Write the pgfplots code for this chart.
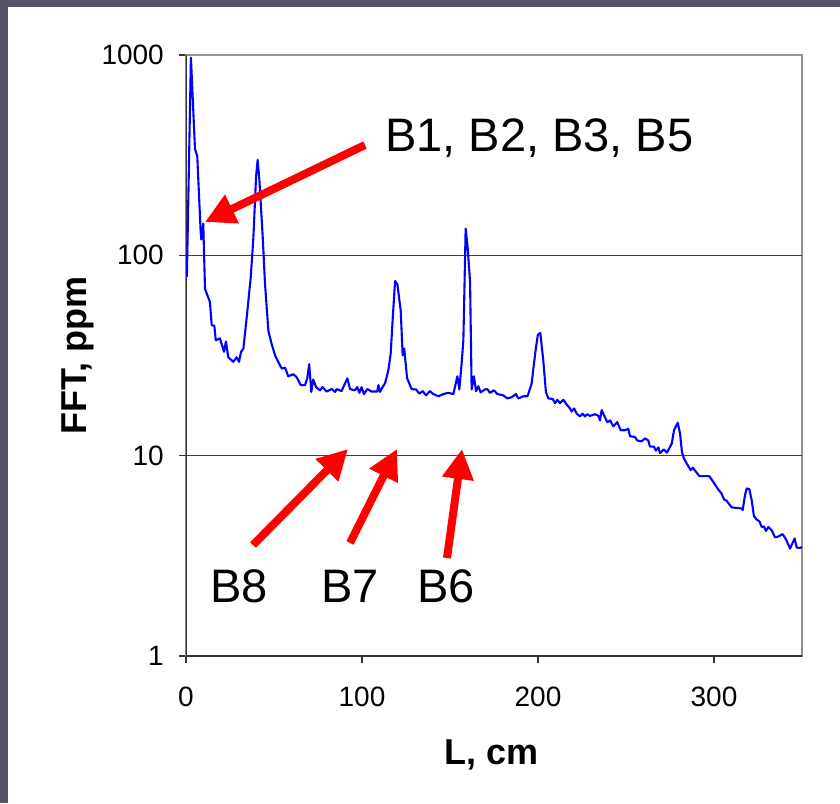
\documentclass[border=0pt]{standalone}
\usepackage{fontspec}
\setmainfont{Liberation Sans}
\usepackage{pgfplots}
\pgfplotsset{compat=1.18}
\usetikzlibrary{arrows.meta}
\definecolor{frame}{RGB}{84,84,102}
\definecolor{curve}{RGB}{0,0,255}
\begin{document}
\begin{tikzpicture}[x=1pt,y=1pt]
\fill[frame] (-186,-147) rectangle (654,656);
\fill[white] (-178,-147) rectangle (654,649);
\begin{axis}[
  at={(0,0)}, anchor=south west,
  scale only axis, width=616pt, height=601pt,
  xmin=0, xmax=350, ymode=log, ymin=1, ymax=1000,
  xtick={0,100,200,300}, xticklabels={0,100,200,300},
  ytick={1,10,100,1000}, yticklabels={1,10,100,1000},
  minor ytick={}, yminorticks=false,
  xtick pos=lower, ytick pos=left,
  extra y ticks={10,100}, extra y tick labels={},
  extra y tick style={ymajorgrids=true, major grid style={draw=black!75, line width=1.3pt}},
  tick align=outside, major tick length=7pt,
  tick style={draw=black!80, line width=1.3pt},
  axis line style={draw=gray!85, line width=1.8pt},
  ticklabel style={font=\fontsize{28}{32}\selectfont},
  yticklabel style={inner sep=0pt, anchor=east, xshift=-15pt},
  xticklabel style={inner sep=0pt, anchor=north, yshift=-24pt},
  xlabel={L, cm}, ylabel={FFT, ppm},
  label style={font=\fontsize{36}{40}\selectfont\bfseries},
  xlabel style={at={(axis description cs:0.496,0)}, anchor=center, yshift=-99pt},
  ylabel style={at={(axis description cs:0,0.5)}, anchor=center, rotate=0, yshift=108pt},
  clip=true,
]
\draw[black!80, line width=1.8pt] (rel axis cs:0,1) -- (rel axis cs:0,0) -- (rel axis cs:1,0);
\addplot[curve, line width=2.1pt, line join=round] coordinates {
(0.5,78) (2.8,970) (5.1,340) (6.4,312) (8.3,133) (8.7,120) (9.8,144) (10.8,68) (13.6,58.5) (14.6,44.8) (16.1,44.5) (16.9,37.7) (19.3,38.5) (21.6,33) (22.7,37.2) (24,31) (26.9,29.4) (28.8,31) (30.1,29.4) (31.3,33) (32.6,34.2) (34.5,49) (36.8,78) (38.3,123) (39.8,246) (40.7,300) (41.7,237) (43.6,123) (44.9,72) (46.8,42) (48.7,36) (50.6,31.7) (51.5,30.5) (54.4,27.2) (56.3,27.5) (58.1,24.9) (61,25.5) (62.9,24.6) (65.2,22.5) (67.6,22.5) (68.9,24.3) (70,28.6) (71.2,20.8) (72.3,24) (73.9,22) (76.1,21.2) (77.6,22) (79.9,20.9) (82.8,21.5) (84.7,20.8) (85.6,21.5) (88.4,21) (90.3,22.9) (91.7,24.3) (93.2,21.5) (96,21.2) (97.3,22) (98.5,20.6) (99.8,22) (101.1,20.3) (103,21.5) (105.5,20.9) (108.7,20.9) (109.3,22.5) (110.2,20.8) (111.7,22) (113.1,23) (115,26.7) (116.3,32.3) (117.4,47.4) (118.8,74.5) (120.1,71.6) (122,53) (123.1,31.7) (124,34.3) (125.6,24.4) (128.2,21.5) (130.7,21.4) (132.6,20.4) (134.5,21) (136.4,20) (138.6,21) (140.5,20.3) (143.4,19.8) (146.2,20.3) (149,20.6) (151.9,20.3) (154.2,24.9) (155.3,21.4) (156.6,28.8) (157.6,37.7) (158.9,136) (160,110) (161.4,73.6) (162.3,21.4) (163.6,24.9) (164.8,21) (166.1,22.2) (167.4,20.7) (169.9,21.4) (171.2,21.5) (172.7,20.6) (175,21.2) (176.9,20.3) (180.3,20) (182.6,19.3) (185.1,19.6) (187.5,20.3) (188.8,19.3) (191.7,19.8) (194,19.8) (196.4,22.9) (197.7,28.8) (198.9,34.9) (199.9,40) (201.3,41) (203,29.9) (204.5,20.8) (205.9,19.3) (208.3,19.2) (209.7,18.3) (211,19) (212.5,18.3) (214.4,19) (216.3,18) (218.2,17.2) (219.1,16.6) (220.5,17.2) (222,16.2) (223.9,15.7) (225.4,16.2) (226.7,15.7) (228,16.1) (229.5,15.8) (232.4,16.1) (234.3,15.8) (235.2,15) (236.2,16.9) (237.5,15.9) (239.4,14.7) (241,15) (242.8,14) (245,14.7) (247,13.4) (249.4,13.4) (251.3,13.6) (252.3,12.5) (255.1,12.4) (256.4,11.9) (258.9,11.8) (260.8,12.2) (262.7,11.9) (263.6,11.1) (265.9,11.1) (267,10.6) (268.4,11) (269.3,10.3) (271.4,10.75) (273.3,10.35) (276,11.5) (277.3,13.4) (279.4,14.6) (280.7,12.9) (281.8,10.4) (282.9,9.7) (284.8,9.04) (286.7,8.47) (287.9,8.7) (289.8,8.3) (291.7,7.9) (297.3,7.9) (299.6,7.4) (302.4,6.78) (304.3,6.47) (305.7,6.05) (307.2,5.95) (310,5.52) (315.7,5.45) (316.3,5.35) (317.6,6.35) (318.6,6.86) (320.1,6.8) (321.4,6.0) (322.7,4.99) (324.2,4.8) (325.8,4.7) (327.1,4.41) (328.4,4.43) (329.5,4.21) (330.9,4.41) (332.8,4.24) (334.7,3.91) (336.6,3.95) (339,4.06) (340.9,3.82) (343.2,3.44) (345.8,3.86) (347,3.48) (348.9,3.46) (350,3.5)
};
\end{axis}
\begin{scope}[red, line width=8pt, -{Triangle[length=30pt,width=30pt]}]
\draw (179,511) -- (19,434);
\draw (67,111) -- (162,207);
\draw (164,113) -- (211,207);
\draw (261,98) -- (276,207);
\end{scope}
\begin{scope}[font=\fontsize{47}{52}\selectfont, inner sep=0pt]
\node[anchor=base west] at (199,504) {B1, B2, B3, B5};
\node[anchor=base west] at (24,54) {B8};
\node[anchor=base west] at (135,54) {B7};
\node[anchor=base west] at (231,54) {B6};
\end{scope}
\end{tikzpicture}
\end{document}
